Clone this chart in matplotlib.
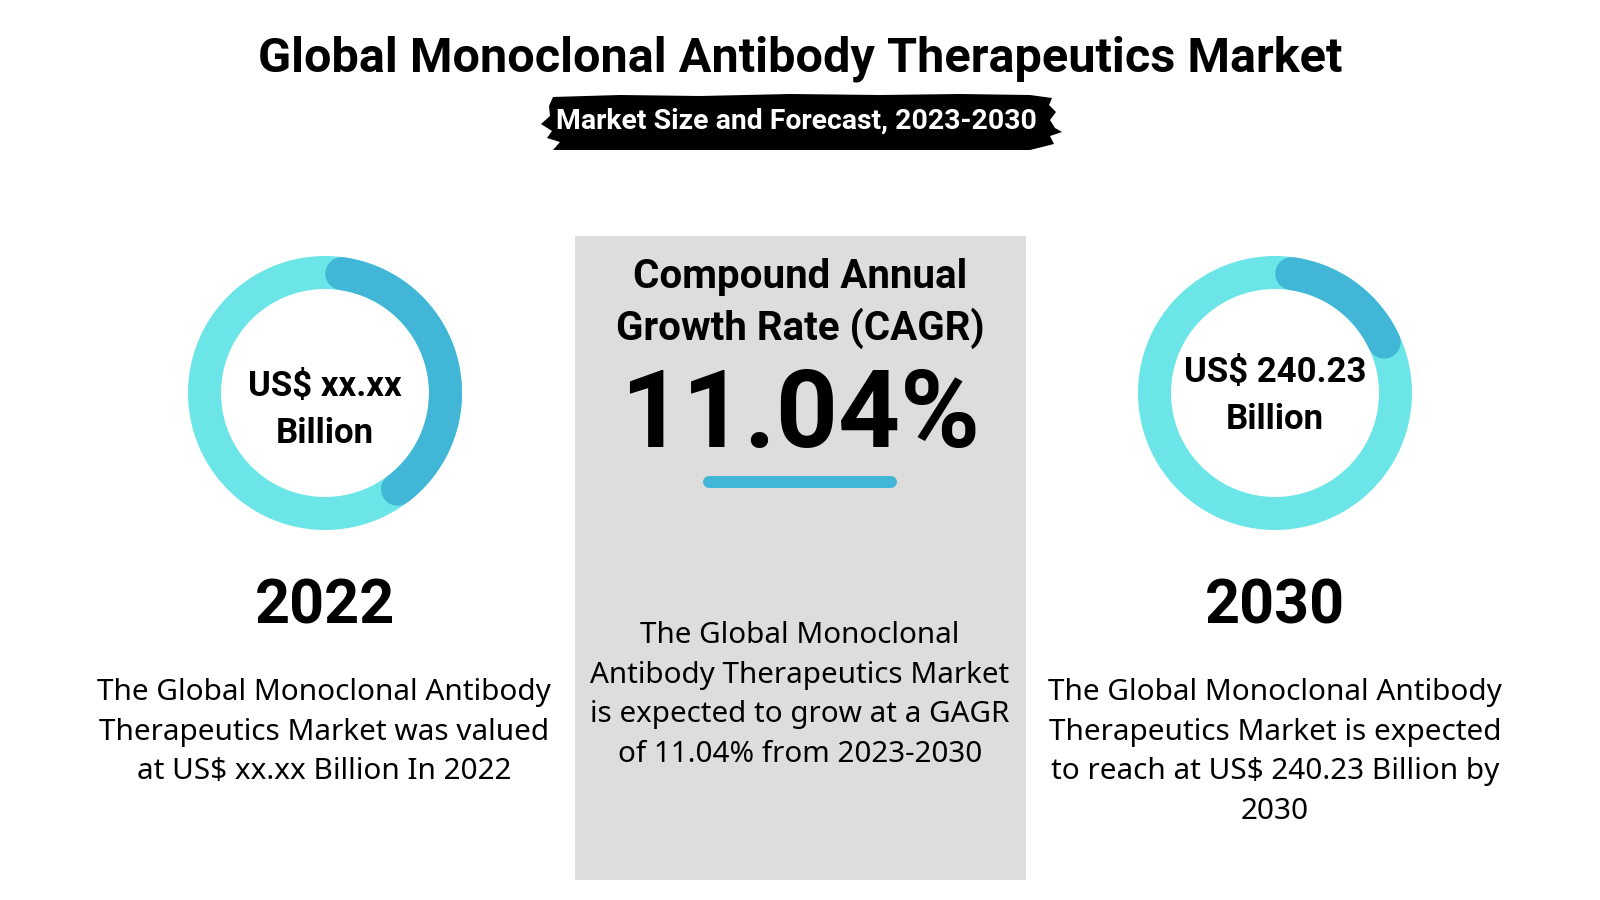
import numpy as np
import matplotlib
matplotlib.use("Agg")
import matplotlib.pyplot as plt
from matplotlib.patches import Polygon, Rectangle

W, H = 1600, 900
DARK = "#42B6D6"
LIGHT = "#6BE5E8"
PANEL = "#DDDDDD"
FONT = "Noto Sans"
BOLD_FONT = "Roboto"

TITLE = "Global Monoclonal Antibody Therapeutics Market"
SUBTITLE = "Market Size and Forecast, 2023-2030"
CAGR_HEAD = ["Compound Annual", "Growth Rate (CAGR)"]
CAGR_VALUE = "11.04%"
YEARS = ["2022", "2030"]
RING_TEXT = [["US$ xx.xx", "Billion"], ["US$ 240.23", "Billion"]]
# arc ends in degrees, clockwise from the top of the ring
ARC_START = [8, 8]
ARC_END = [143, 65]
LEFT_TEXT = ["The Global Monoclonal Antibody", "Therapeutics Market was valued",
             "at US$ xx.xx Billion In 2022"]
CENTER_TEXT = ["The Global Monoclonal", "Antibody Therapeutics Market",
               "is expected to grow at a GAGR", "of 11.04% from 2023-2030"]
RIGHT_TEXT = ["The Global Monoclonal Antibody", "Therapeutics Market is expected",
              "to reach at US$ 240.23 Billion by", "2030"]

RING_X = [325, 1275]
RING_Y = 393
RING_R = 120.5
RING_W = 33 * 72 / 100

fig = plt.figure(figsize=(16, 9), dpi=100, facecolor="white")
ax = fig.add_axes([0, 0, 1, 1])
ax.set_xlim(0, W)
ax.set_ylim(H, 0)
ax.axis("off")


def label(x, y, s, size, weight="normal", color="black"):
    ax.text(x, y, s, fontsize=size, fontweight=weight, color=color,
            family=BOLD_FONT if weight == "bold" else FONT,
            ha="center", va="baseline", zorder=5)


def block(x, y0, step, lines, size, weight="normal"):
    for i, s in enumerate(lines):
        label(x, y0 + i * step, s, size, weight)


# title and brush behind the subtitle
label(800, 72, TITLE, 35, "bold")
brush_x = [552, 620, 700, 790, 880, 960, 1030, 1052, 1049, 1056, 1050, 1055, 1062, 1050, 1054,
           1030, 900, 760, 640, 553, 560, 547, 552, 541, 550, 549, 553]
brush_y = [97, 95, 96, 94, 95, 94, 95, 98, 105, 112, 120, 128, 132, 136, 144,
           150, 150, 150, 150, 150, 142, 138, 131, 124, 116, 106, 97]
ax.add_patch(Polygon(np.column_stack([brush_x, brush_y]), closed=True, color="black", lw=0))
label(796.5, 129, SUBTITLE, 20.4, "bold", "white")

# centre panel
ax.add_patch(Rectangle((574.5, 236), 451, 644, color=PANEL, lw=0))
block(800, 288, 52, CAGR_HEAD, 29, "bold")
label(800, 447, CAGR_VALUE, 78, "bold")
ax.plot([709, 891], [482, 482], color=DARK, lw=12 * 72 / 100, solid_capstyle="round")
block(800, 643, 39.7, CENTER_TEXT, 21.3)

# rings
for cx, start, end, year, ring_lines, y0 in zip(RING_X, ARC_START, ARC_END, YEARS, RING_TEXT, [396, 382]):
    t = np.radians(np.linspace(0, 360, 361))
    ax.plot(cx + RING_R * np.sin(t), RING_Y - RING_R * np.cos(t), color=LIGHT, lw=RING_W,
            solid_capstyle="round")
    t = np.radians(np.linspace(start, end, 120))
    ax.plot(cx + RING_R * np.sin(t), RING_Y - RING_R * np.cos(t), color=DARK, lw=RING_W,
            solid_capstyle="round")
    block(cx, y0, 47, ring_lines, 25, "bold")
    label(cx, 623, year, 44, "bold")

block(RING_X[0] - 1, 700, 39.7, LEFT_TEXT, 21.4)
block(RING_X[1], 700, 39.7, RIGHT_TEXT, 21.4)

fig.savefig("out.png", dpi=100)
